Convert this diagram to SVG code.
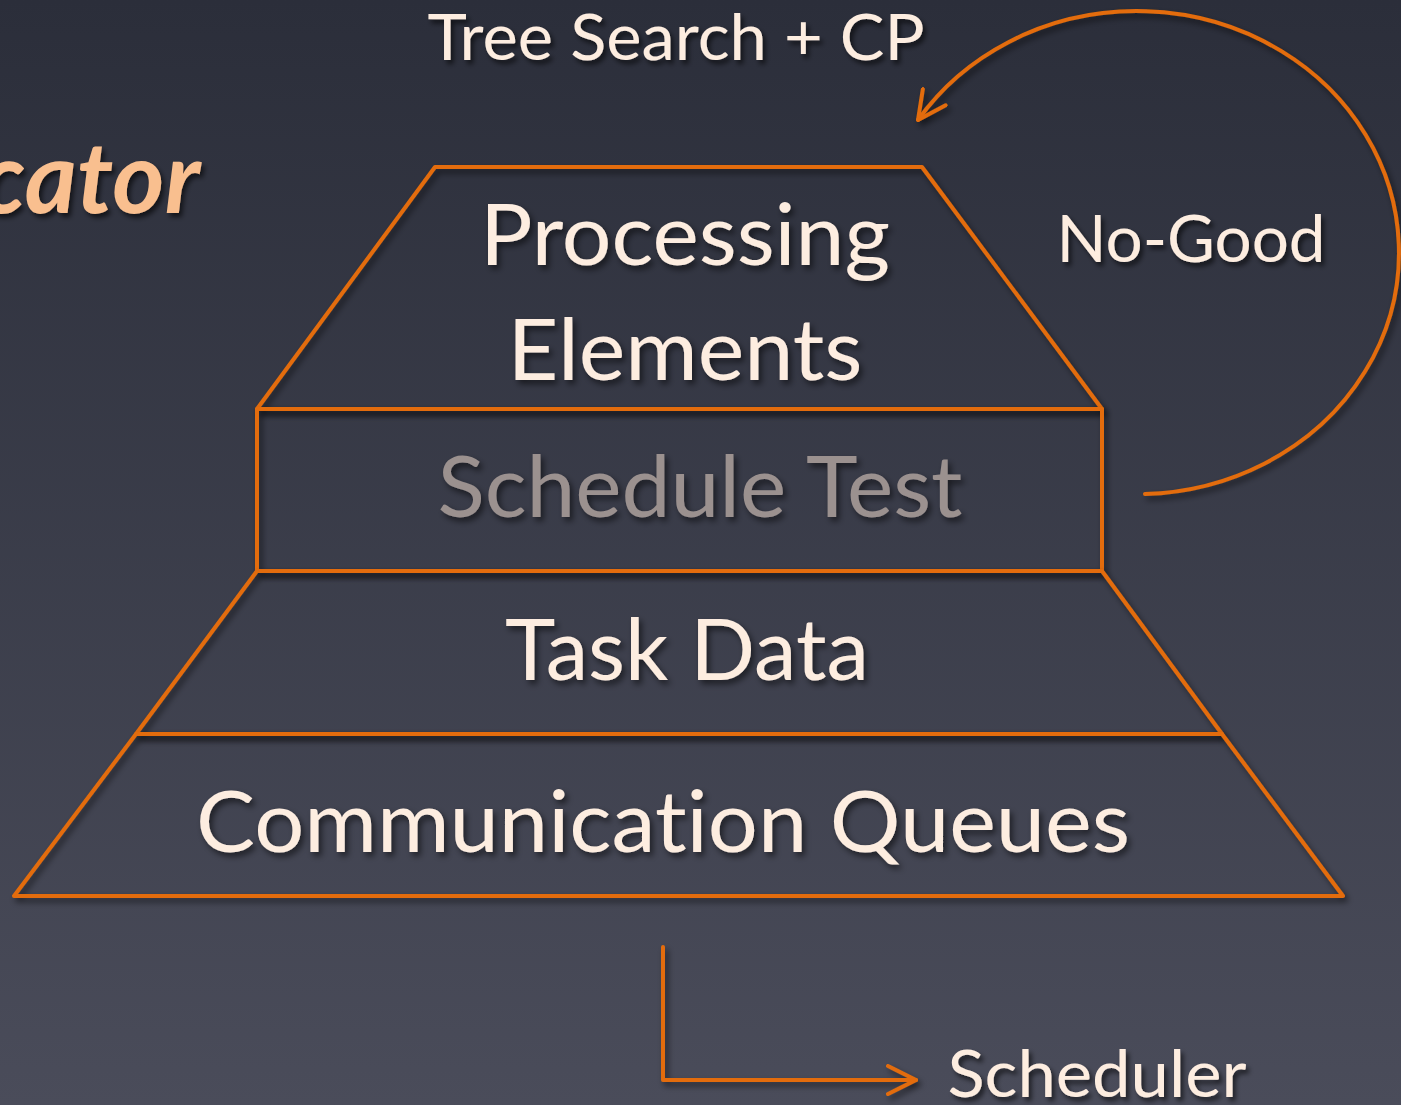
<svg xmlns="http://www.w3.org/2000/svg" width="1401" height="1105" viewBox="0 0 1401 1105">
  <defs>
    <linearGradient id="bg" x1="0" y1="0" x2="0" y2="1">
      <stop offset="0" stop-color="#2b2e3a"/>
      <stop offset="1" stop-color="#4a4c5a"/>
    </linearGradient>
    <filter id="shadow" x="-10%" y="-10%" width="120%" height="130%">
      <feDropShadow dx="3" dy="4" stdDeviation="3" flood-color="#000" flood-opacity="0.55"/>
    </filter>
    <filter id="tshadow" x="-10%" y="-20%" width="120%" height="150%">
      <feDropShadow dx="3" dy="4" stdDeviation="2.5" flood-color="#000" flood-opacity="0.6"/>
    </filter>
    <marker id="chevronBig" viewBox="0 0 32 32" refX="30" refY="16" markerWidth="32" markerHeight="32" markerUnits="userSpaceOnUse" orient="auto">
      <path d="M2,2 L30,16 L2,30" fill="none" stroke="#e36c0a" stroke-width="4" stroke-linecap="round" stroke-linejoin="round"/>
    </marker>
  </defs>
  <style>
    .shape { fill: none; stroke: #e36c0a; stroke-width: 4; stroke-linejoin: round; }
    .conn { fill: none; stroke: #e36c0a; stroke-width: 4; stroke-linecap: round; stroke-linejoin: round; }
    text { font-variant-ligatures: none; font-feature-settings: "liga" 0, "clig" 0, "dlig" 0; }
    .lbl { font-family: Lato, "Open Sans", "Liberation Sans", sans-serif; fill: #fdede0; }
    .dim { fill: #9b918f; }
    .title { font-family: Lato, "Open Sans", "Liberation Sans", sans-serif; font-weight: bold; font-style: italic; fill: #f9bf8f; }
  </style>

  <!-- background -->
  <rect x="0" y="0" width="1401" height="1105" fill="url(#bg)"/>

  <!-- heading fragment at the left edge -->
  <text class="title" x="200" y="213" font-size="100" text-anchor="end" filter="url(#tshadow)">cator</text>

  <!-- pyramid layers -->
  <g id="processing-elements" filter="url(#shadow)">
    <polygon class="shape" points="435,167 922,167 1102,409 257,409"/>
    <text class="lbl" x="685" y="265" font-size="86" text-anchor="middle" textLength="410" lengthAdjust="spacingAndGlyphs">Processing</text>
    <text class="lbl" x="685" y="380" font-size="86" text-anchor="middle" textLength="355" lengthAdjust="spacingAndGlyphs">Elements</text>
  </g>

  <g id="schedule-test" filter="url(#shadow)">
    <rect class="shape" x="257" y="409" width="845" height="162"/>
    <text class="lbl dim" x="700" y="517" font-size="86" text-anchor="middle" textLength="525" lengthAdjust="spacingAndGlyphs">Schedule Test</text>
  </g>

  <g id="task-data" filter="url(#shadow)">
    <polygon class="shape" points="257,571 1102,571 1222,734 136,734"/>
    <text class="lbl" x="687" y="680" font-size="86" text-anchor="middle" textLength="364" lengthAdjust="spacingAndGlyphs">Task Data</text>
  </g>

  <g id="communication-queues" filter="url(#shadow)">
    <polygon class="shape" points="136,734 1222,734 1343,896 14,896"/>
    <text class="lbl" x="663" y="852" font-size="86" text-anchor="middle" textLength="934" lengthAdjust="spacingAndGlyphs">Communication Queues</text>
  </g>

  <!-- free labels -->
  <g id="tree-search" filter="url(#tshadow)">
    <text class="lbl" x="676" y="60" font-size="64" text-anchor="middle" textLength="497" lengthAdjust="spacingAndGlyphs">Tree Search + CP</text>
  </g>
  <g id="no-good" filter="url(#tshadow)">
    <text class="lbl" x="1191" y="262" font-size="66" text-anchor="middle" textLength="269" lengthAdjust="spacingAndGlyphs">No-Good</text>
  </g>
  <g id="scheduler" filter="url(#tshadow)">
    <text class="lbl" x="1097" y="1097" font-size="66" text-anchor="middle" textLength="299" lengthAdjust="spacingAndGlyphs">Scheduler</text>
  </g>

  <!-- connectors -->
  <g id="connectors" filter="url(#shadow)">
    <path class="conn" d="M1145,494 A262,241.5 0 1 0 918,120" marker-end="url(#chevronBig)"/>
    <path class="conn" d="M663,947 L663,1080 L916,1080" marker-end="url(#chevronBig)"/>
  </g>
</svg>
